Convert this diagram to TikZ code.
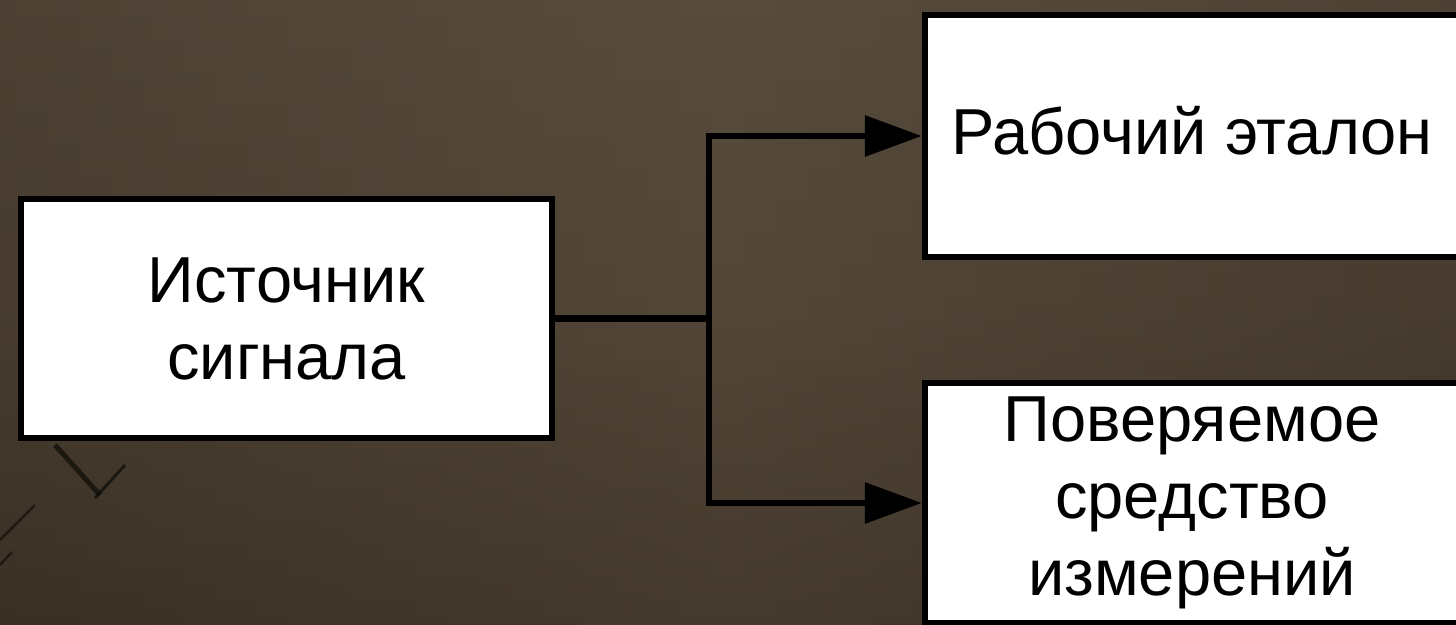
\documentclass[tikz,border=0pt]{standalone}
\usepackage{fontspec}
\setmainfont{Liberation Sans}
\usetikzlibrary{arrows.meta,shadings}
\definecolor{bgtop}{RGB}{92,80,65}
\definecolor{bgmid}{RGB}{82,70,56}
\definecolor{bgbot}{RGB}{58,48,37}
\tikzset{
  blockbox/.style={draw=black, fill=white, line width=6.5pt, rectangle,
    align=center, inner sep=0pt, text=black,
    font=\fontsize{65}{77}\selectfont},
  conn/.style={line width=6.5pt, draw=black, line join=miter},
  arr/.style={conn, -{Triangle[length=57pt,width=40pt]}}
}
\begin{document}
\begin{tikzpicture}[x=1pt,y=-1pt]
\clip (0,0) rectangle (1456,624);
\shade[top color=bgtop, bottom color=bgbot, middle color=bgmid] (0,0) rectangle (1456,624);
\shade[left color=bgbot, right color=bgbot, middle color=bgmid, opacity=0.45] (0,0) rectangle (1456,624);
% faint background strokes
\draw[line width=5pt, black!80!bgbot, opacity=0.7] (55,445) -- (100,495);
\draw[line width=3pt, black!80!bgbot, opacity=0.7] (95,498) -- (125,465);
\draw[line width=2.5pt, black!80!bgbot, opacity=0.6] (0,540) -- (35,505);
\draw[line width=2.5pt, black!80!bgbot, opacity=0.6] (0,565) -- (12,552);

\node[blockbox, minimum width=531pt, minimum height=239pt] (src) at (286.5,318.5)
  {Источник\\сигнала};
\node[blockbox, minimum width=534pt, minimum height=242pt,
      text height=46pt, text depth=10pt] (ref) at (1192,136)
  {Рабочий эталон};
\node[blockbox, minimum width=534pt, minimum height=240pt] (dut) at (1192,503)
  {Поверяемое\\средство\\измерений};

\coordinate (j) at (709,318.5);
\draw[conn] (src.east) -- (j);
\draw[arr] (j) |- (ref.west);
\draw[arr] (j) |- (dut.west);
\end{tikzpicture}
\end{document}
